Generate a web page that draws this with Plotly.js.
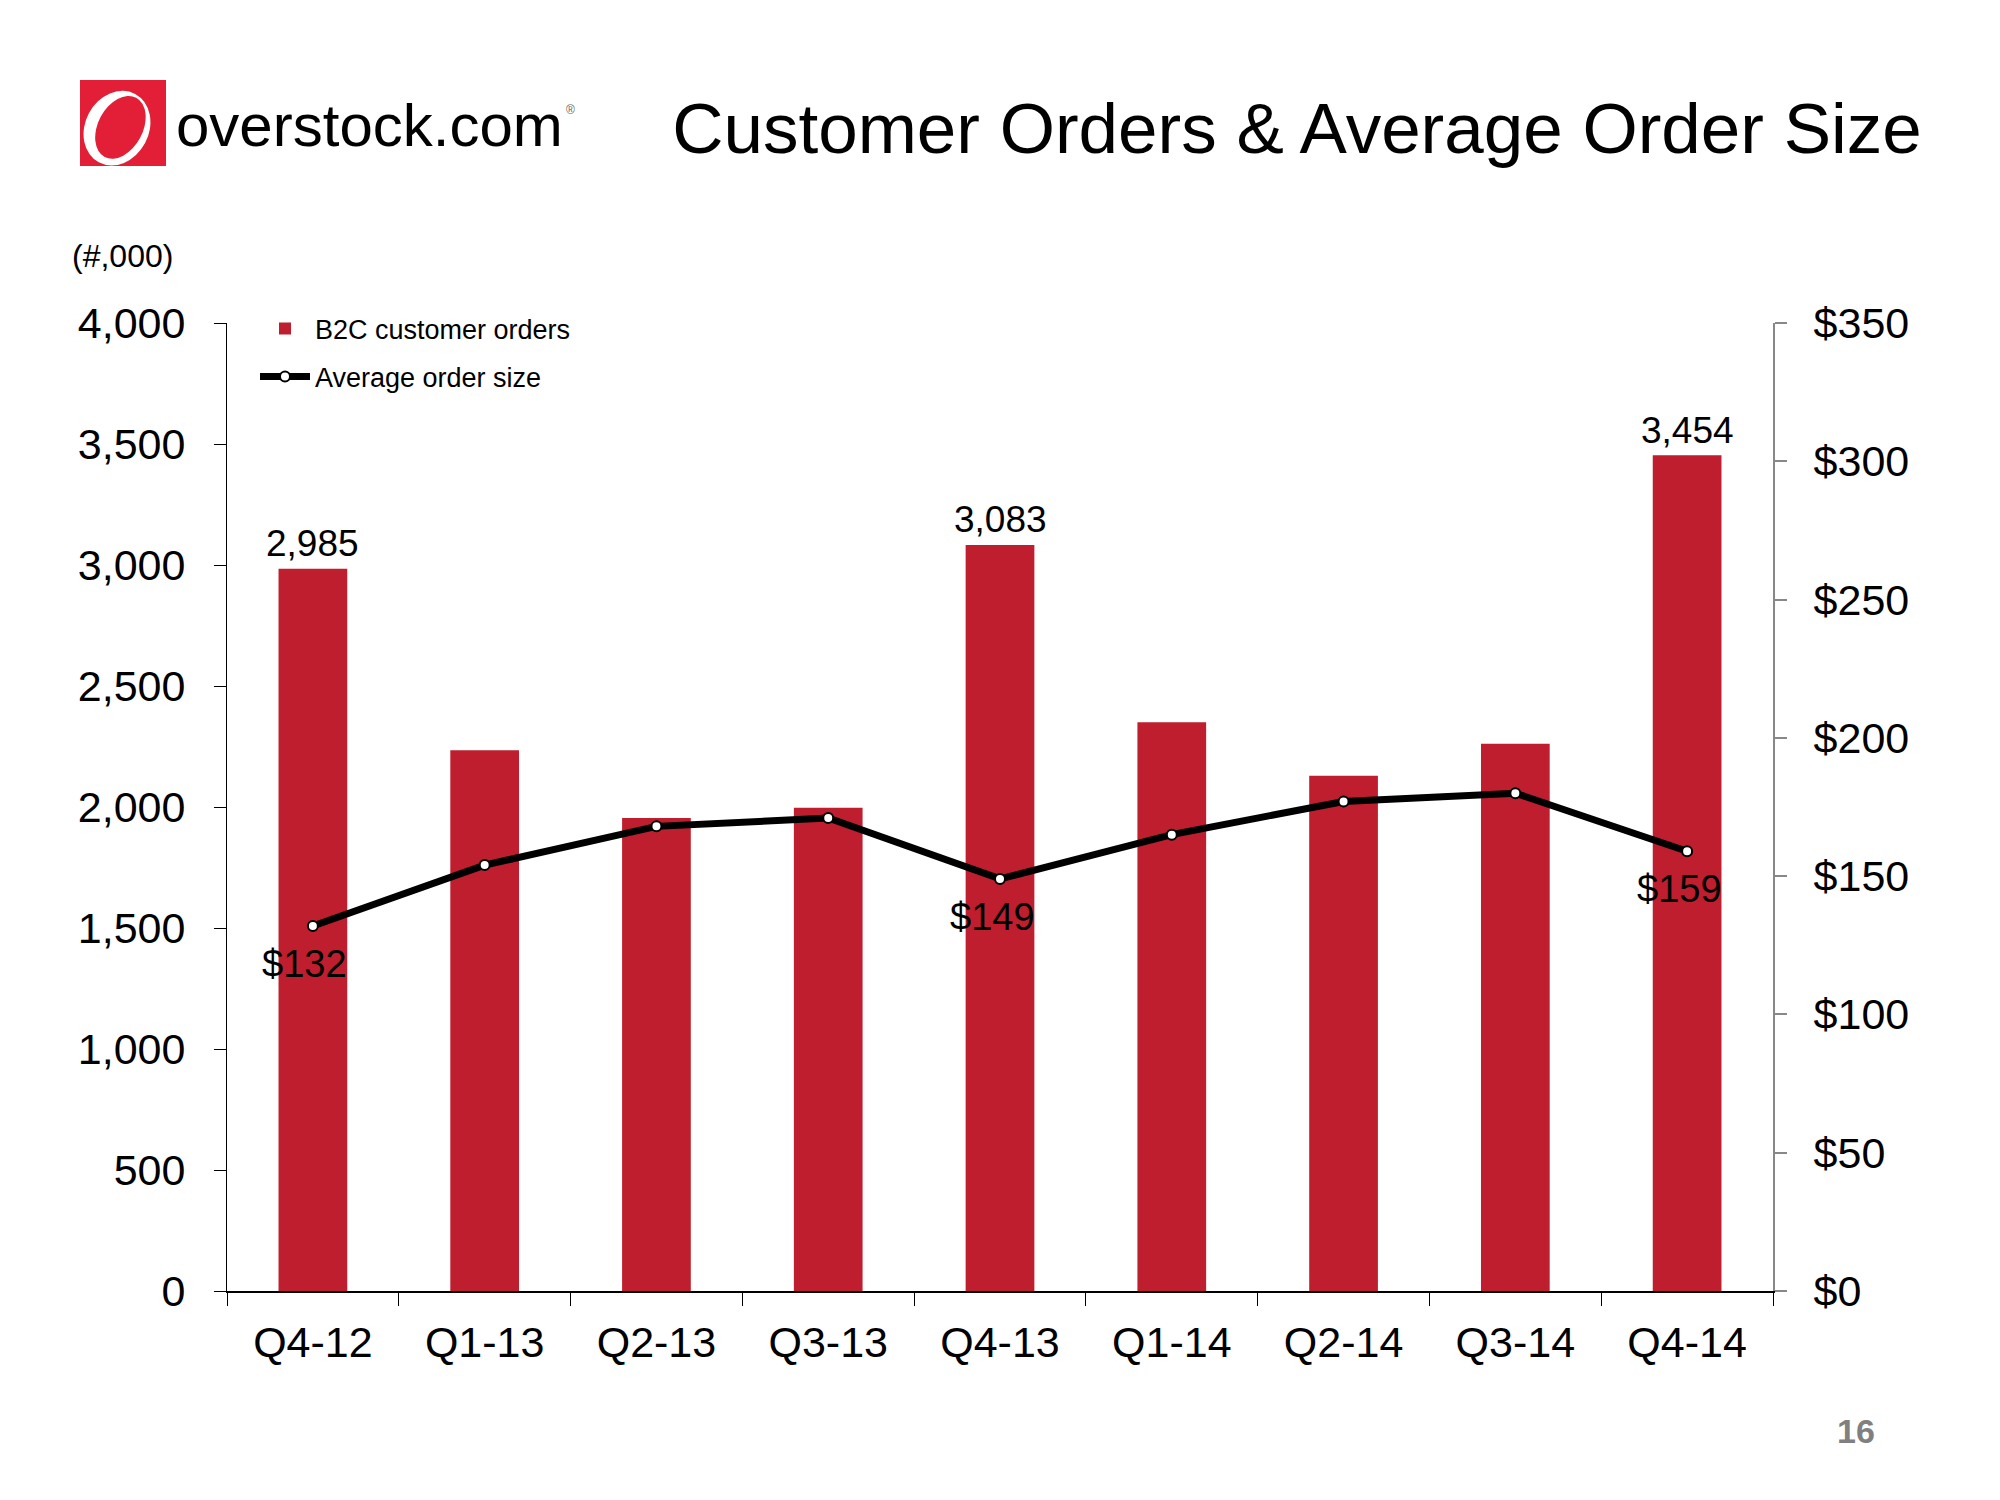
<!DOCTYPE html>
<html>
<head>
<meta charset="utf-8">
<script src="https://cdn.plot.ly/plotly-3.0.1.min.js"></script>
<style>
  html, body { margin: 0; padding: 0; background: #ffffff; }
  #chart { width: 2000px; height: 1500px; }
</style>
</head>
<body>
<div id="chart"></div>
<script>
// ---- data ----
const quarters = ['Q4-12', 'Q1-13', 'Q2-13', 'Q3-13', 'Q4-13', 'Q1-14', 'Q2-14', 'Q3-14', 'Q4-14'];
const customerOrders = [2985, 2234, 1955, 1997, 3083, 2350, 2129, 2261, 3454];   // (#,000)
const orderLabels = ['2,985', '', '', '', '3,083', '', '', '', '3,454'];
const avgOrderSize = [132, 154, 168, 171, 149, 165, 177, 180, 159];               // $
const sizeLabels = ['$132', '', '', '', '$149', '', '', '', '$159'];
const seriesNames = ['B2C customer orders', 'Average order size'];

const FONT = '"Liberation Sans", Arial, Helvetica, sans-serif';
const RED = '#BE1E2D';

const W = 2000, H = 1500;
const L = 227, R = 227, T = 323, B = 209;
const PW = W - L - R, PH = H - T - B;
const px = x => (x - L) / PW;          // pixel -> paper x
const py = y => (H - B - y) / PH;      // pixel -> paper y

const logoSvg =
  '<svg xmlns="http://www.w3.org/2000/svg" width="100" height="100" viewBox="0 0 100 100">' +
  '<rect width="100" height="100" fill="#E21F36"/>' +
  '<ellipse cx="43" cy="56" rx="37" ry="45" transform="rotate(28 43 56)" fill="#ffffff"/>' +
  '<ellipse cx="47" cy="55" rx="26" ry="39" transform="rotate(28 47 55)" fill="#E21F36"/>' +
  '</svg>';

const traces = [
  {
    type: 'bar',
    name: seriesNames[0],
    x: quarters,
    y: customerOrders,
    marker: { color: RED },
    hoverinfo: 'x+y',
    legend: 'legend'
  },
  {
    type: 'scatter',
    mode: 'lines+markers',
    name: seriesNames[1],
    x: quarters,
    y: avgOrderSize,
    yaxis: 'y2',
    line: { color: '#000000', width: 7 },
    marker: { symbol: 'circle', size: 10, color: '#ffffff', line: { color: '#000000', width: 2 } },
    cliponaxis: false,
    legend: 'legend2'
  }
];

// data labels, placed through the axes' own scales
const dataLabels = [];
quarters.forEach((q, i) => {
  if (orderLabels[i]) {
    dataLabels.push({
      text: orderLabels[i], x: q, y: customerOrders[i], xref: 'x', yref: 'y',
      showarrow: false, yanchor: 'middle', xanchor: 'center', yshift: 25,
      font: { family: FONT, size: 37, color: '#000000' }
    });
  }
  if (sizeLabels[i]) {
    dataLabels.push({
      text: sizeLabels[i], x: q, y: avgOrderSize[i], xref: 'x', yref: 'y2',
      showarrow: false, yanchor: 'middle', xanchor: 'center', yshift: -38, xshift: -8,
      font: { family: FONT, size: 38, color: '#000000' }
    });
  }
});

const layout = {
  width: W, height: H,
  margin: { l: L, r: R, t: T, b: B, pad: 0 },
  paper_bgcolor: '#ffffff',
  plot_bgcolor: '#ffffff',
  font: { family: FONT, color: '#000000' },
  bargap: 0.6,
  showlegend: true,
  title: {
    text: 'Customer Orders & Average Order Size',
    font: { family: FONT, size: 71, color: '#000000' },
    x: 1297 / W, xanchor: 'center', xref: 'container',
    y: 1 - 128 / H, yanchor: 'middle', yref: 'container'
  },
  xaxis: {
    type: 'category',
    showgrid: false, zeroline: false,
    showline: true, linecolor: '#000000', linewidth: 1.5,
    ticks: 'outside', tickson: 'boundaries', ticklen: 13, tickcolor: '#000000', tickwidth: 1,
    tickfont: { family: FONT, size: 43, color: '#000000' },
    ticklabelstandoff: 13
  },
  yaxis: {
    range: [0, 4000], dtick: 500, tickformat: ',d',
    showgrid: false, zeroline: false,
    showline: true, linecolor: '#000000', linewidth: 1,
    ticks: 'outside', ticklen: 12, tickcolor: '#000000',
    tickfont: { family: FONT, size: 43, color: '#000000' },
    ticklabelstandoff: 20
  },
  yaxis2: {
    overlaying: 'y', side: 'right',
    range: [0, 350], dtick: 50, tickprefix: '$',
    showgrid: false, zeroline: false,
    showline: true, linecolor: '#888888', linewidth: 2,
    ticks: 'outside', ticklen: 12, tickcolor: '#888888', tickwidth: 2,
    tickfont: { family: FONT, size: 43, color: '#000000' },
    ticklabelstandoff: 18
  },
  legend: {
    x: px(255), xanchor: 'left', y: py(329), yanchor: 'middle',
    bgcolor: 'rgba(0,0,0,0)', borderwidth: 0,
    font: { family: FONT, size: 27, color: '#000000' },
    itemwidth: 50, traceorder: 'normal'
  },
  legend2: {
    x: px(255), xanchor: 'left', y: py(377), yanchor: 'middle',
    bgcolor: 'rgba(0,0,0,0)', borderwidth: 0,
    font: { family: FONT, size: 27, color: '#000000' },
    itemwidth: 50
  },
  images: [{
    source: 'data:image/svg+xml;charset=utf-8,' + encodeURIComponent(logoSvg),
    xref: 'paper', yref: 'paper',
    x: px(80), y: py(80), sizex: 86 / PW, sizey: 86 / PH,
    xanchor: 'left', yanchor: 'top', sizing: 'stretch', layer: 'above'
  }],
  annotations: [
    {
      text: 'overstock.com',
      xref: 'paper', yref: 'paper', x: px(174), y: py(126),
      xanchor: 'left', yanchor: 'middle', showarrow: false,
      font: { family: FONT, size: 60, color: '#000000' }
    },
    {
      text: '(#,000)',
      xref: 'paper', yref: 'paper', x: px(70), y: py(256),
      xanchor: 'left', yanchor: 'middle', showarrow: false,
      font: { family: FONT, size: 32, color: '#000000' }
    },
    {
      text: '16',
      xref: 'paper', yref: 'paper', x: px(1856), y: py(1431),
      xanchor: 'center', yanchor: 'middle', showarrow: false,
      font: { family: FONT, size: 34, color: '#808080', weight: 'bold' }
    },
    {
      text: '®',
      xref: 'paper', yref: 'paper', x: px(570), y: py(110),
      xanchor: 'center', yanchor: 'middle', showarrow: false,
      font: { family: FONT, size: 12, color: '#666666' }
    }
  ].concat(dataLabels)
};

Plotly.newPlot('chart', traces, layout, { displayModeBar: false, staticPlot: true });
</script>
</body>
</html>
